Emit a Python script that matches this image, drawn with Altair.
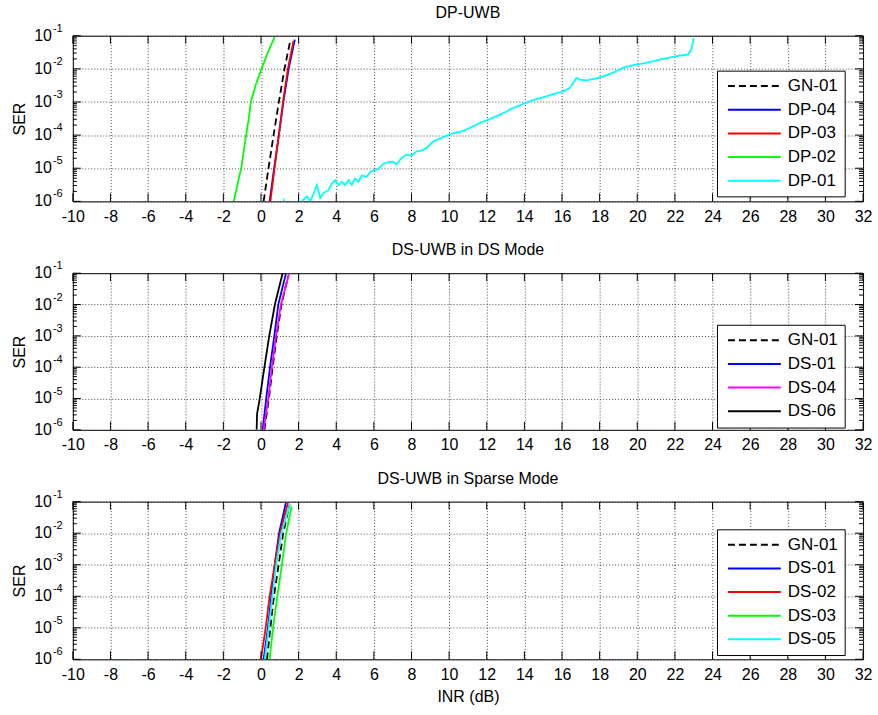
import altair as alt
import pandas as pd

FONT = "Liberation Sans"

# ---------------- axes -----------------
X_TICKS = list(range(-10, 33, 2))
DECADES = [1e-1, 1e-2, 1e-3, 1e-4, 1e-5, 1e-6]
EXPONENTS = ["-1", "-2", "-3", "-4", "-5", "-6"]
MINOR = [m * d for d in [1e-6, 1e-5, 1e-4, 1e-3, 1e-2] for m in range(2, 10)]

# ---------------- panel 1 : DP-UWB -----------------
P1_NAMES = ["GN-01", "DP-04", "DP-03", "DP-02", "DP-01"]
P1_COLORS = ["#000000", "#0000ff", "#ff0000", "#00ff00", "#00ffff"]
P1_DASH = [[7, 4], [1, 0], [1, 0], [1, 0], [1, 0]]

gn01_p1_x = [0.14, 0.40, 0.67, 0.95, 1.25, 1.55]
gn01_p1_y = [1e-6, 1e-5, 1e-4, 1e-3, 1e-2, 6.8e-2]
dp04_x = [0.46, 0.70, 0.95, 1.19, 1.47, 1.80]
dp04_y = [1e-6, 1e-5, 1e-4, 1e-3, 1e-2, 7.6e-2]
dp03_x = [0.50, 0.72, 0.95, 1.17, 1.43, 1.73]
dp03_y = [1e-6, 1e-5, 1e-4, 1e-3, 1e-2, 7.0e-2]
dp02_x = [-1.45, -1.05, -0.80, -0.66, -0.53, -0.25, 0.05, 0.32, 0.72]
dp02_y = [1e-6, 1.02e-5, 9.1e-5, 2.95e-4, 1.05e-3, 3.7e-3, 1.07e-2, 2.7e-2, 9.1e-2]
dp01_x = [1.10, 1.22, 1.32, 2.10, 2.17, 2.44, 2.62, 2.79, 2.97, 3.15, 3.32, 3.59,
          3.77, 3.94, 4.12, 4.30, 4.47, 4.65, 4.83, 5.00, 5.18, 5.36, 5.62, 5.80,
          5.97, 6.24, 6.50, 6.77, 7.00, 7.21, 7.45, 7.74, 8.00, 8.27, 8.55, 8.80,
          9.16, 9.60, 10.04, 10.40, 10.75, 11.20, 11.64, 12.10, 12.52, 13.00, 13.40,
          13.85, 14.29, 14.70, 15.17, 15.60, 16.06, 16.41, 16.77, 17.00, 17.30, 17.70,
          18.18, 18.70, 19.24, 19.95, 20.48, 21.36, 22.25, 22.70, 22.87, 23.00]
dp01_y = [6.3e-7, 1.07e-6, 6.3e-7, 6.3e-7, 1.0e-6, 1.41e-6, 1.0e-6, 1.66e-6, 3.1e-6,
          1.26e-6, 1.78e-6, 2.19e-6, 3.47e-6, 4.37e-6, 3.1e-6, 3.9e-6, 3.1e-6, 4.37e-6,
          3.1e-6, 4.9e-6, 3.9e-6, 6.0e-6, 5.5e-6, 7.6e-6, 8.5e-6, 9.5e-6, 1.35e-5,
          1.51e-5, 1.58e-5, 1.29e-5, 2.0e-5, 2.57e-5, 2.4e-5, 3.24e-5, 3.4e-5, 4.07e-5,
          6.46e-5, 8.3e-5, 1.05e-4, 1.2e-4, 1.32e-4, 1.78e-4, 2.34e-4, 2.95e-4, 3.72e-4,
          5.0e-4, 6.6e-4, 8.3e-4, 1.05e-3, 1.26e-3, 1.48e-3, 1.78e-3, 2.09e-3, 2.63e-3,
          5.25e-3, 4.68e-3, 4.47e-3, 5.0e-3, 5.9e-3, 7.6e-3, 1.07e-2, 1.35e-2, 1.51e-2,
          2.0e-2, 2.51e-2, 2.69e-2, 3.8e-2, 8.5e-2]

# ---------------- panel 2 : DS-UWB in DS Mode -----------------
P2_NAMES = ["GN-01", "DS-01", "DS-04", "DS-06"]
P2_COLORS = ["#000000", "#0000ff", "#ff00ff", "#000000"]
P2_DASH = [[7, 4], [1, 0], [1, 0], [1, 0]]

gn01_p2_x = [0.18, 0.42, 0.62, 0.84, 1.09, 1.45]
gn01_p2_y = [1e-6, 1e-5, 1e-4, 1e-3, 1e-2, 8.3e-2]
ds01_p2_x = [0.09, 0.28, 0.48, 0.71, 0.92, 1.33]
ds01_p2_y = [1e-6, 1e-5, 1e-4, 1e-3, 1e-2, 1e-1]
ds04_x = [0.14, 0.39, 0.58, 0.80, 1.06, 1.50]
ds04_y = [1e-6, 1e-5, 1e-4, 1e-3, 1e-2, 1e-1]
ds06_x = [-0.23, -0.21, -0.10, 0.18, 0.44, 0.74, 1.15]
ds06_y = [1e-6, 3.2e-6, 7.4e-6, 9.8e-5, 1e-3, 1e-2, 1e-1]

# ---------------- panel 3 : DS-UWB in Sparse Mode -----------------
P3_NAMES = ["GN-01", "DS-01", "DS-02", "DS-03", "DS-05"]
P3_COLORS = ["#000000", "#0000ff", "#ff0000", "#00ff00", "#00ffff"]
P3_DASH = [[7, 4], [1, 0], [1, 0], [1, 0], [1, 0]]

gn01_p3_x = [0.32, 0.50, 0.69, 0.94, 1.18, 1.50]
gn01_p3_y = [1e-6, 1e-5, 1e-4, 1e-3, 1e-2, 7.4e-2]
ds01_p3_x = [0.14, 0.37, 0.55, 0.73, 0.96, 1.33]
ds01_p3_y = [1e-6, 1e-5, 1e-4, 1e-3, 1e-2, 9.5e-2]
ds02_x = [0.00, 0.25, 0.46, 0.73, 1.01, 1.45]
ds02_y = [1e-6, 1e-5, 1e-4, 1e-3, 1e-2, 1e-1]
ds03_x = [0.46, 0.64, 0.87, 1.11, 1.34, 1.63]
ds03_y = [1e-6, 1e-5, 1e-4, 1e-3, 1e-2, 7.1e-2]
ds05_x = [0.20, 0.41, 0.60, 0.81, 1.08, 1.55]
ds05_y = [1e-6, 1e-5, 1e-4, 1e-3, 1e-2, 8.5e-2]

W = 792


def panel(title, names, xs, ys, colors, dashes, height, legend_y, xtitle):
    rows = []
    for n, xv, yv in zip(names, xs, ys):
        for a, b in zip(xv, yv):
            rows.append({"series": n, "inr": a, "ser": b})
    df = pd.DataFrame(rows)

    xscale = alt.Scale(domain=[-10, 32], nice=False, zero=False)
    yscale = alt.Scale(type="log", domain=[1e-6, 1e-1], nice=False)
    xaxis = alt.Axis(values=X_TICKS, grid=True, gridDash=[1, 2], gridColor="#333333",
                     gridOpacity=0.9, ticks=False, domain=False, labelFontSize=16,
                     labelColor="black", labelFont=FONT, labelPadding=7, labelFlush=False,
                     labelOverlap=False, labelExpr="'' + datum.value",
                     titleFontSize=16, titleFont=FONT,
                     titleFontWeight="normal", titleColor="black", titlePadding=6)
    yaxis = alt.Axis(values=DECADES, grid=True, gridDash=[1, 2], gridColor="#333333",
                     gridOpacity=0.9, ticks=False, labels=False, domain=False,
                     titleFontSize=16, titleFont=FONT, titleFontWeight="normal",
                     titleColor="black", titlePadding=45)
    xenc = alt.X("inr:Q", scale=xscale, axis=xaxis, title=xtitle)
    yenc = alt.Y("ser:Q", scale=yscale, axis=yaxis, title="SER")
    legend = alt.Legend(title=None, orient="none", legendX=645.6, legendY=legend_y,
                        fillColor="white", strokeColor="black", padding=6,
                        symbolType="stroke", symbolSize=2809, symbolStrokeWidth=2,
                        symbolOffset=4, labelOffset=6, labelFontSize=17, labelFont=FONT,
                        labelColor="black", clipHeight=19, rowPadding=4.7,
                        labelExpr="datum.label + ' '", labelLimit=200)
    color = alt.Color("series:N", scale=alt.Scale(domain=names, range=colors), legend=legend)
    dash = alt.StrokeDash("series:N", scale=alt.Scale(domain=names, range=dashes), legend=legend)

    layers = []
    for n in names:
        layers.append(
            alt.Chart(df).transform_filter(alt.datum.series == n)
            .mark_line(clip=True, strokeWidth=1.8)
            .encode(x=xenc, y=yenc, color=color, strokeDash=dash)
        )

    xt = alt.Chart(pd.DataFrame({"inr": X_TICKS}))
    layers.append(xt.mark_rule(color="black", strokeWidth=1).encode(
        x=xenc, y=alt.value(height), y2=alt.value(height - 8)))
    layers.append(xt.mark_rule(color="black", strokeWidth=1).encode(
        x=xenc, y=alt.value(0), y2=alt.value(8)))

    yt = alt.Chart(pd.DataFrame({"ser": DECADES, "exp": EXPONENTS}))
    layers.append(yt.mark_rule(color="black").encode(y=yenc, x=alt.value(0), x2=alt.value(8)))
    layers.append(yt.mark_rule(color="black").encode(y=yenc, x=alt.value(W), x2=alt.value(W - 8)))
    ym = alt.Chart(pd.DataFrame({"ser": MINOR}))
    layers.append(ym.mark_rule(color="black").encode(y=yenc, x=alt.value(0), x2=alt.value(4)))
    layers.append(ym.mark_rule(color="black").encode(y=yenc, x=alt.value(W), x2=alt.value(W - 4)))

    layers.append(yt.mark_text(align="right", baseline="middle", fontSize=16, font=FONT,
                               color="black").encode(y=yenc, x=alt.value(-21),
                                                     text=alt.value("10")))
    layers.append(yt.mark_text(align="left", baseline="middle", fontSize=11, font=FONT,
                               color="black", dy=-7).encode(y=yenc, x=alt.value(-20),
                                                            text="exp:N"))

    return alt.layer(*layers).properties(
        width=W, height=height,
        title=alt.TitleParams(title, fontSize=16, font=FONT, fontWeight="normal",
                              color="black", offset=2, anchor="middle"))


p1 = panel("DP-UWB", P1_NAMES,
           [gn01_p1_x, dp04_x, dp03_x, dp02_x, dp01_x],
           [gn01_p1_y, dp04_y, dp03_y, dp02_y, dp01_y],
           P1_COLORS, P1_DASH, 166, 35, None)
p2 = panel("DS-UWB in DS Mode", P2_NAMES,
           [gn01_p2_x, ds01_p2_x, ds04_x, ds06_x],
           [gn01_p2_y, ds01_p2_y, ds04_y, ds06_y],
           P2_COLORS, P2_DASH, 157, 51.7, None)
p3 = panel("DS-UWB in Sparse Mode", P3_NAMES,
           [gn01_p3_x, ds01_p3_x, ds02_x, ds03_x, ds05_x],
           [gn01_p3_y, ds01_p3_y, ds02_y, ds03_y, ds05_y],
           P3_COLORS, P3_DASH, 158, 27.7, "INR (dB)")

chart = alt.vconcat(p1, p2, p3, spacing=16).resolve_scale(
    color="independent", strokeDash="independent"
).properties(
    padding={"left": 11, "top": 3, "right": 5, "bottom": 5}
).configure(font=FONT).configure_view(stroke="black", strokeWidth=1)

chart.save("out.html", embed_options={"renderer": "svg", "actions": False})
